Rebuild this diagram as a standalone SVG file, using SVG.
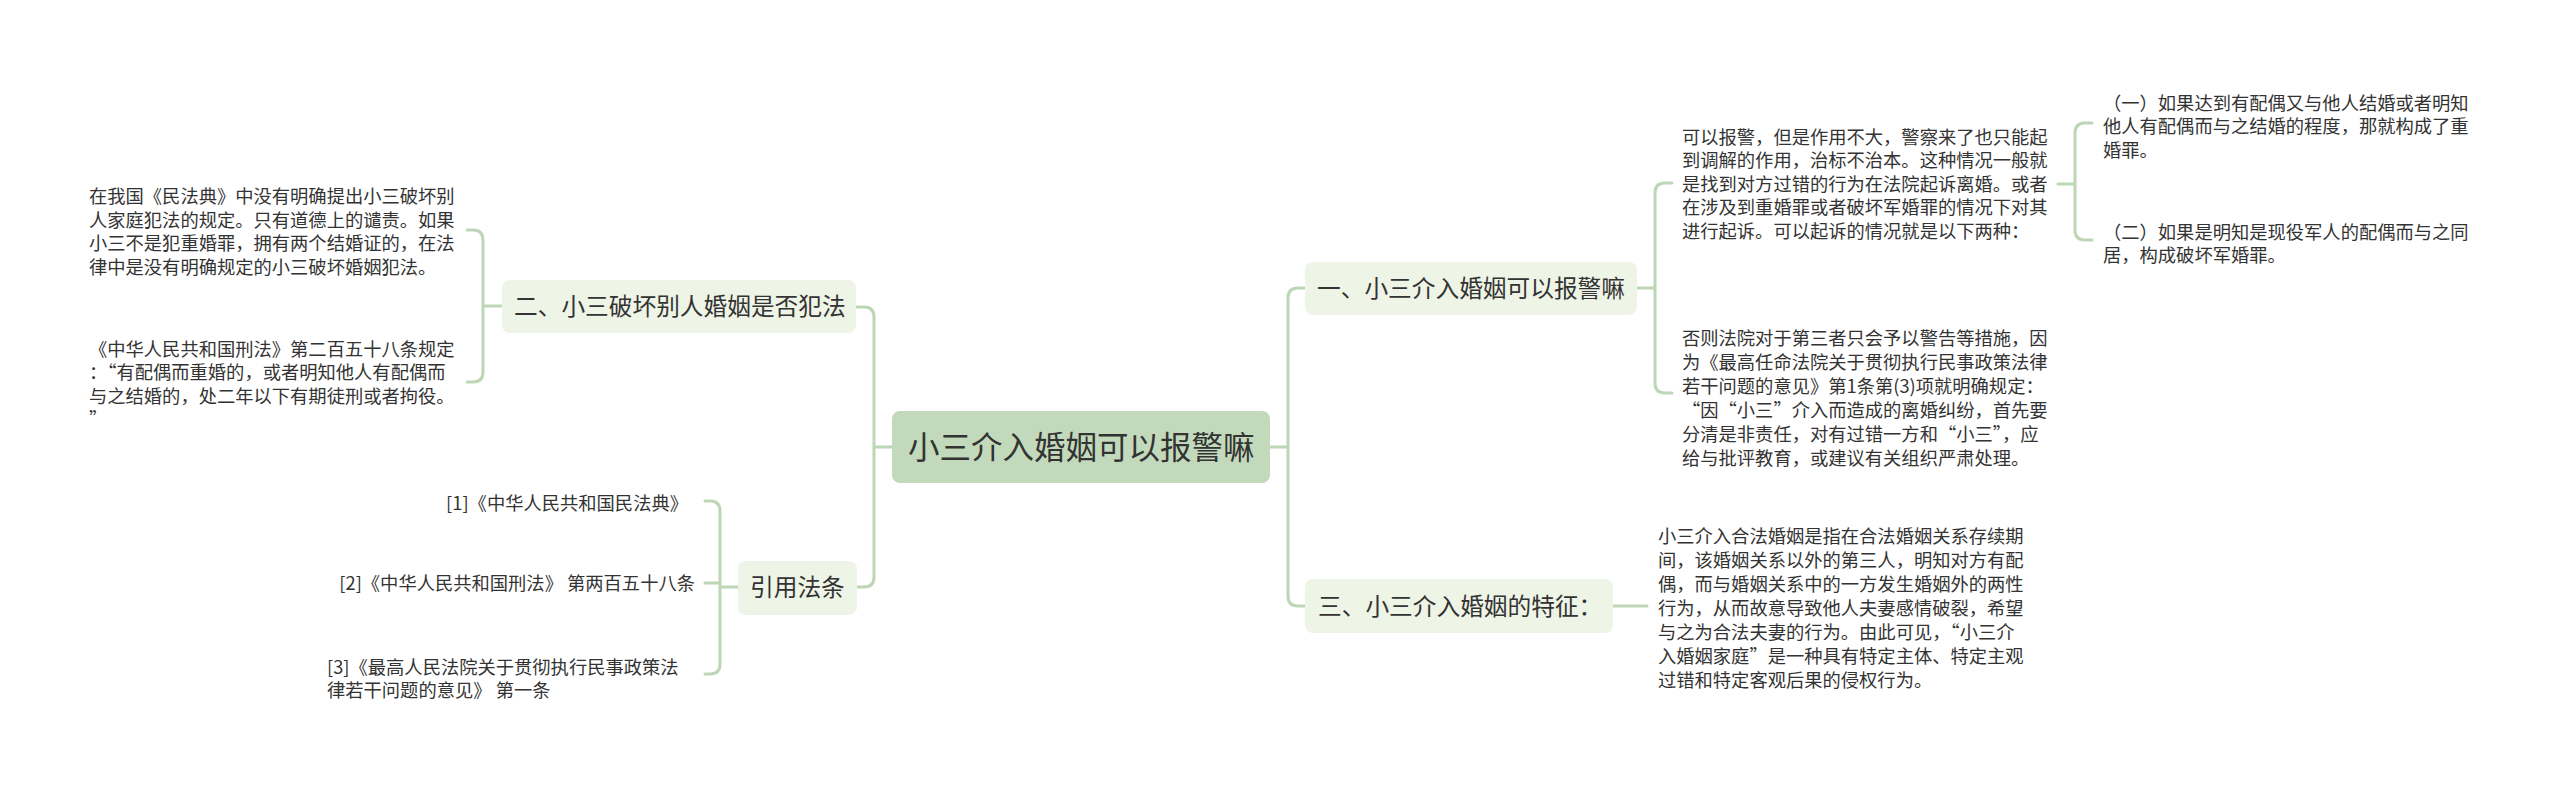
<svg xmlns="http://www.w3.org/2000/svg" width="2560" height="788" viewBox="0 0 2560 788">
<style>
text{font-family:"Noto Sans CJK SC","Noto Sans",sans-serif;fill:#333}
.t{font-size:18.3px}
.n{font-size:23.7px}
.r{font-size:31.5px}
.box{fill:#eef4e6}
.root{fill:#c2dabb}
.c{fill:none;stroke:#bdd6b5;stroke-width:3;stroke-linecap:round}
</style>
<rect width="2560" height="788" fill="#fff"/>
<g id="connectors">
<path class="c" d="M892,447 H874 M857,307 H864 Q874,307 874,317 V577 Q874,587 864,587 H857"/>
<path class="c" d="M502,306 H483 M467,230 H473 Q483,230 483,240 V372 Q483,382 473,382 H467"/>
<path class="c" d="M738,587 H720 M705,501 H710 Q720,501 720,511 V664 Q720,674 710,674 H705 M705,583 H720"/>
<path class="c" d="M1270,447 H1288 M1305,288 H1298 Q1288,288 1288,298 V596 Q1288,606 1298,606 H1305"/>
<path class="c" d="M1637,288 H1655 M1672,183 H1665 Q1655,183 1655,193 V383 Q1655,393 1665,393 H1672"/>
<path class="c" d="M2058,184 H2075 M2092,123 H2085 Q2075,123 2075,133 V230 Q2075,240 2085,240 H2092"/>
<path class="c" d="M1613,606 H1647"/>
</g>
<g id="root">
<rect class="root" x="892" y="411" width="378" height="72" rx="8"/>
<text class="r" x="908" y="458.5">小三介入婚姻可以报警嘛</text>
</g>
<g id="n2">
<rect class="box" x="502" y="280" width="354" height="53" rx="8"/>
<text class="n" x="514" y="315">二、小三破坏别人婚姻是否犯法</text>
</g>
<g id="n2a">
<text class="t" x="89"><tspan x="89" y="203">在我国《民法典》中没有明确提出小三破坏别</tspan><tspan x="89" y="226.5">人家庭犯法的规定。只有道德上的谴责。如果</tspan><tspan x="89" y="250">小三不是犯重婚罪，拥有两个结婚证的，在法</tspan><tspan x="89" y="273.5">律中是没有明确规定的小三破坏婚姻犯法。</tspan></text>
</g>
<g id="n2b">
<text class="t" x="89"><tspan x="89" y="355.5">《中华人民共和国刑法》第二百五十八条规定</tspan><tspan x="89" y="379">：“有配偶而重婚的，或者明知他人有配偶而</tspan><tspan x="89" y="402.5">与之结婚的，处二年以下有期徒刑或者拘役。</tspan><tspan x="89" y="426">”</tspan></text>
</g>
<g id="ref">
<rect class="box" x="738" y="561" width="119" height="54" rx="8"/>
<text class="n" x="750" y="596">引用法条</text>
</g>
<g id="ref1">
<text class="t" x="688" y="509.5" text-anchor="end">[1]《中华人民共和国民法典》</text>
</g>
<g id="ref2">
<text class="t" x="695" y="589.5" text-anchor="end">[2]《中华人民共和国刑法》 第两百五十八条</text>
</g>
<g id="ref3">
<text class="t"><tspan x="327" y="673.5">[3]《最高人民法院关于贯彻执行民事政策法</tspan><tspan x="327" y="697">律若干问题的意见》 第一条</tspan></text>
</g>
<g id="n1">
<rect class="box" x="1305" y="262" width="332" height="53" rx="8"/>
<text class="n" x="1317" y="297">一、小三介入婚姻可以报警嘛</text>
</g>
<g id="n1a">
<text class="t"><tspan x="1682" y="143.5">可以报警，但是作用不大，警察来了也只能起</tspan><tspan x="1682" y="167">到调解的作用，治标不治本。这种情况一般就</tspan><tspan x="1682" y="190.5">是找到对方过错的行为在法院起诉离婚。或者</tspan><tspan x="1682" y="214">在涉及到重婚罪或者破坏军婚罪的情况下对其</tspan><tspan x="1682" y="237.5">进行起诉。可以起诉的情况就是以下两种：</tspan></text>
</g>
<g id="n1a1">
<text class="t"><tspan x="2103" y="109.5">（一）如果达到有配偶又与他人结婚或者明知</tspan><tspan x="2103" y="133">他人有配偶而与之结婚的程度，那就构成了重</tspan><tspan x="2103" y="156.5">婚罪。</tspan></text>
</g>
<g id="n1a2">
<text class="t"><tspan x="2103" y="238.5">（二）如果是明知是现役军人的配偶而与之同</tspan><tspan x="2103" y="262">居，构成破坏军婚罪。</tspan></text>
</g>
<g id="n1b">
<text class="t"><tspan x="1682" y="344.5">否则法院对于第三者只会予以警告等措施，因</tspan><tspan x="1682" y="368.5">为《最高任命法院关于贯彻执行民事政策法律</tspan><tspan x="1682" y="392.5">若干问题的意见》第1条第(3)项就明确规定：</tspan><tspan x="1682" y="416.5">“因“小三”介入而造成的离婚纠纷，首先要</tspan><tspan x="1682" y="440.5">分清是非责任，对有过错一方和“小三”，应</tspan><tspan x="1682" y="464.5">给与批评教育，或建议有关组织严肃处理。</tspan></text>
</g>
<g id="n3">
<rect class="box" x="1305" y="579" width="308" height="54" rx="8"/>
<text class="n" x="1318" y="614.5">三、小三介入婚姻的特征：</text>
</g>
<g id="n3a">
<text class="t"><tspan x="1658" y="542.5">小三介入合法婚姻是指在合法婚姻关系存续期</tspan><tspan x="1658" y="566.5">间，该婚姻关系以外的第三人，明知对方有配</tspan><tspan x="1658" y="590.5">偶，而与婚姻关系中的一方发生婚姻外的两性</tspan><tspan x="1658" y="614.5">行为，从而故意导致他人夫妻感情破裂，希望</tspan><tspan x="1658" y="638.5">与之为合法夫妻的行为。由此可见，“小三介</tspan><tspan x="1658" y="662.5">入婚姻家庭”是一种具有特定主体、特定主观</tspan><tspan x="1658" y="686.5">过错和特定客观后果的侵权行为。</tspan></text>
</g>
</svg>
